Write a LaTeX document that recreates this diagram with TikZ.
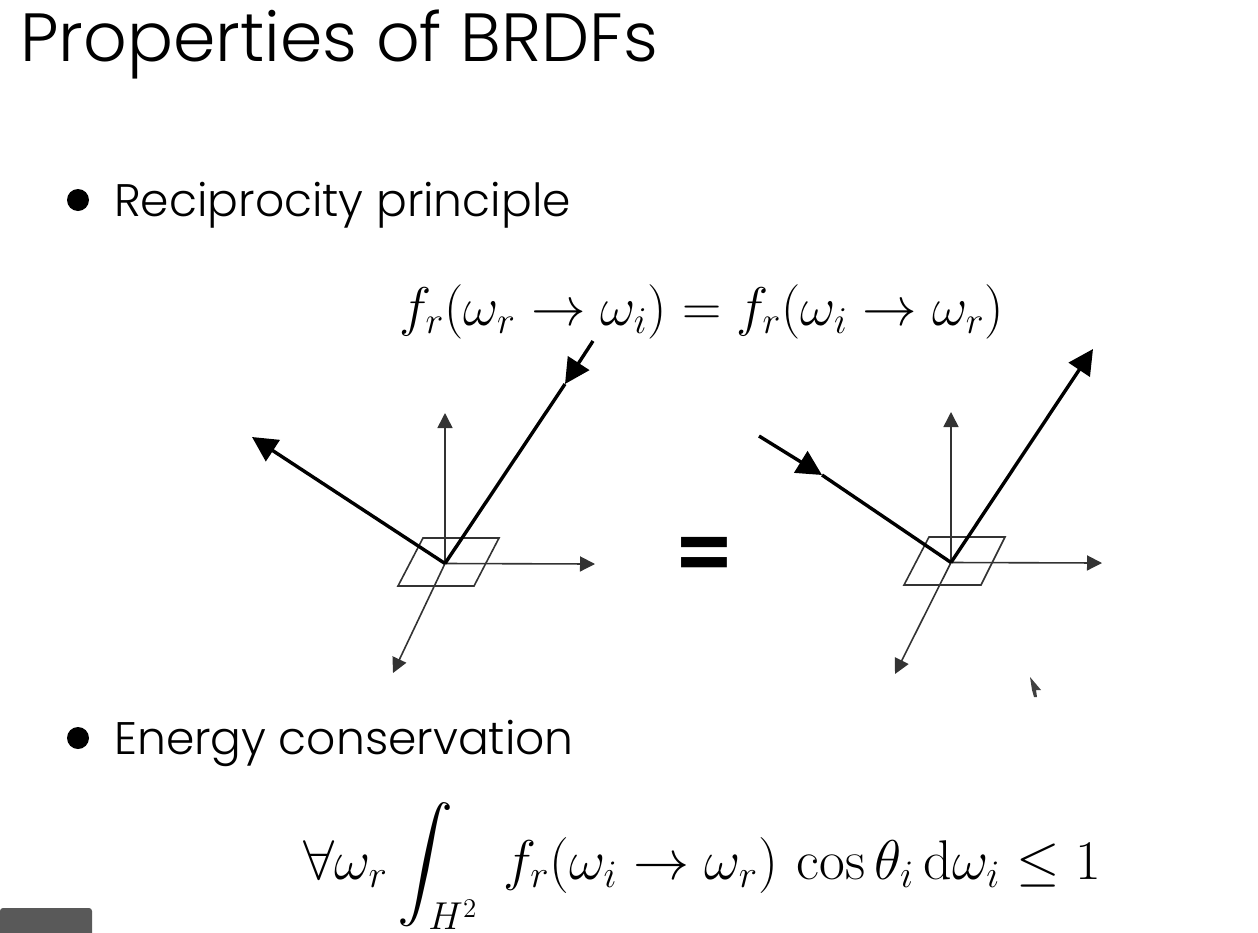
\documentclass[tikz,border=0pt]{standalone}
\usepackage{amsmath}
\usepackage[no-math]{fontspec}
\setmainfont[UprightFont=* Light]{Poppins}
\usetikzlibrary{positioning,arrows.meta}
\DeclareMathSizes{24.88}{24.88}{17.28}{12}
\tikzset{
  heading/.style={anchor=base west, inner sep=0pt, font=\fontsize{68.2}{68}\selectfont},
  itemtext/.style={anchor=base west, inner sep=0pt, font=\fontsize{45.6}{46}\selectfont},
  formula/.style={anchor=base west, inner sep=0pt, font=\Huge, transform shape},
  itemdot/.style={circle, fill=black, inner sep=0pt, minimum size=22pt},
  axis/.style={->, line width=1.6pt, color=black!80, >={Triangle[length=15pt,width=15pt]}},
  ray/.style={line width=3.4pt, >={Triangle[length=25pt,width=25pt]}},
  patch/.style={draw, line width=1.6pt, color=black!80}
}
\begin{document}
\begin{tikzpicture}[x=1pt, y=-1pt]
  \useasboundingbox (0,0) rectangle (1258,932);
  \node (title) [heading] at (20,61) {Properties of BRDFs};
  \node (dotone) [itemdot] at (78,200) {};
  \node (reciprocity) [itemtext] at (114,216) {Reciprocity principle};
  \node (dottwo) [itemdot] at (78,738) {};
  \node (energy) [itemtext] at (114,754) {Energy conservation};
  \node (swap) [formula, scale=2.19] at (399,325) {$f_r(\omega_r \rightarrow \omega_i) = f_r(\omega_i \rightarrow \omega_r)$};
  \node (bound) [formula, scale=2.25] at (303,879) {$\forall\omega_r \displaystyle\int_{H^2}\; f_r(\omega_i \rightarrow \omega_r)\,\cos\theta_i\,\mathrm{d}\omega_i \leq 1$};
  \node (same) at (704.5,560) {\fontsize{84}{84}\selectfont\bfseries =};

  % left surface
  \coordinate (lo) at (445,563.5);
  \coordinate (lup) at (445,413);
  \coordinate (lright) at (595,564);
  \coordinate (ldown) at (393,673);
  \coordinate (lout) at (252,437);
  \coordinate (lin) at (593,341);
  \coordinate (lmid) at (565,384);
  \draw [patch] (423,538) -- (499,538) -- (474,586) -- (398,586) -- cycle;
  \path [axis] (lo) edge (lup)
  (lo) edge (lright)
  (lo) edge (ldown);
  \draw [ray, ->] (lo) -- (lout);
  \draw [ray, ->] (lin) -- (lmid);
  \draw [ray] (lmid) -- (lo);

  % right surface
  \coordinate (ro) at (951,562.5);
  \coordinate (rup) at (951,412);
  \coordinate (rright) at (1102,563);
  \coordinate (rdown) at (895,674);
  \coordinate (rout) at (1093,349);
  \coordinate (rin) at (759,436);
  \coordinate (rmid) at (822,475);
  \draw [patch] (929,537) -- (1005,537) -- (981,585) -- (904,585) -- cycle;
  \path [axis] (ro) edge (rup)
  (ro) edge (rright)
  (ro) edge (rdown);
  \draw [ray, ->] (ro) -- (rout);
  \draw [ray, ->] (rin) -- (rmid);
  \draw [ray] (rmid) -- (ro);

  % screen leftovers
  \fill [black!65, rounded corners=3pt] (0,908) -- (92,908) -- (92,940) -- (0,940) -- cycle;
  \fill [black!75] (1030,677) -- (1041,690) -- (1036,690) -- (1037,697) -- (1034,697) -- (1032,690) -- cycle;
\end{tikzpicture}
\end{document}
